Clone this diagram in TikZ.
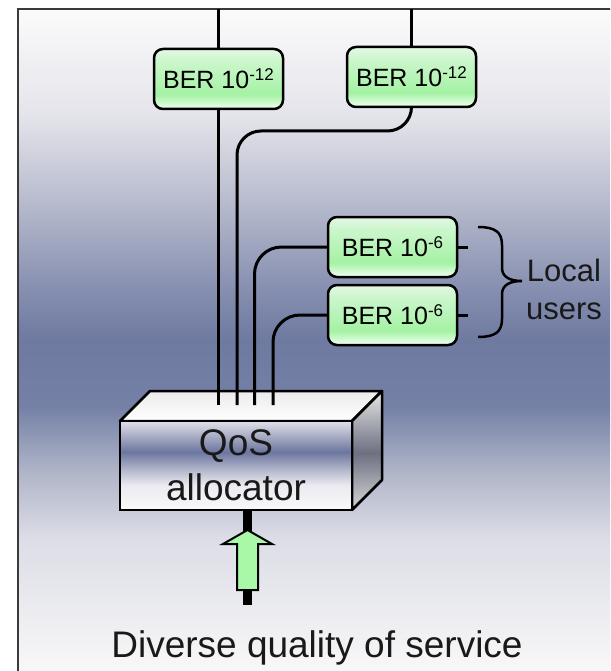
\documentclass[tikz,border=0pt]{standalone}
\usepackage{fontspec}
\setmainfont{Liberation Sans}
\definecolor{bg0}{HTML}{FBFBFB}
\definecolor{bg1}{HTML}{E4E4EB}
\definecolor{bg2}{HTML}{B4B8CB}
\definecolor{bg3}{HTML}{8790B1}
\definecolor{bgA}{HTML}{6F7AA0}
\definecolor{bgB}{HTML}{7480A6}
\definecolor{bgC}{HTML}{B0B5C8}
\definecolor{bgD}{HTML}{DCDDE6}
\definecolor{bgE}{HTML}{F8F8F8}
\definecolor{gbot}{HTML}{F2FFF2}
\definecolor{gmid}{HTML}{A4F2A4}
\definecolor{gup}{HTML}{CCF6CC}
\definecolor{gtop}{HTML}{E4F8E4}
\definecolor{f0}{HTML}{E0E0EA}
\definecolor{f1}{HTML}{ACB0C6}
\definecolor{f2}{HTML}{6C769F}
\definecolor{f3}{HTML}{B4B8CC}
\definecolor{f4}{HTML}{EAEAF0}
\definecolor{f5}{HTML}{FAFAFA}
\definecolor{r0}{HTML}{E6E6E6}
\definecolor{r1}{HTML}{6C7080}
\definecolor{r2}{HTML}{D8D8D8}
\definecolor{arrowgreen}{HTML}{A8F8A8}
\definecolor{framecol}{HTML}{3A3A3A}
\pgfdeclareverticalshading{bgshade}{100bp}{color(0bp)=(bgE); color(25bp)=(bgE); color(35bp)=(bgD); color(40bp)=(bgC); color(45bp)=(bgB); color(50bp)=(bgA); color(54bp)=(bg3); color(60bp)=(bg2); color(67bp)=(bg1); color(75bp)=(bg0); color(100bp)=(bg0)}
\pgfdeclareverticalshading{bergreen}{100bp}{color(0bp)=(gbot); color(25bp)=(gbot); color(37bp)=(gmid); color(65bp)=(gup); color(75bp)=(gtop); color(100bp)=(gtop)}
\pgfdeclareverticalshading{frontface}{100bp}{color(0bp)=(f5); color(25bp)=(f5); color(39bp)=(f4); color(47.5bp)=(f3); color(57.6bp)=(f2); color(67bp)=(f1); color(75bp)=(f0); color(100bp)=(f0)}
\pgfdeclareverticalshading{sideface}{100bp}{color(0bp)=(r2); color(25bp)=(r2); color(49bp)=(r1); color(75bp)=(r0); color(100bp)=(r0)}
\newcommand\bersup[1]{\raisebox{8pt}{\fontsize{17}{20}\selectfont #1}}
\begin{document}
\begin{tikzpicture}[x=1pt,y=-1pt,
  conn/.style={line width=3pt, draw=black},
  berbox/.style={draw=black, line width=2.5pt, rounded corners=9pt, shading=bergreen,
    minimum width=129pt, minimum height=60pt, inner sep=0pt,
    font=\fontsize{25}{30}\selectfont, text=black},
  qosbox/.style={draw=black, line width=2.5pt, shading=frontface,
    minimum width=232pt, minimum height=89pt, inner sep=0pt, align=center,
    font=\fontsize{37}{45}\selectfont, text=black!90},
  face/.style={draw=black, line width=2.5pt, line join=round}]
\useasboundingbox (0,0) rectangle (610,671);
\clip (0,0) rectangle (610,671);
% background
\shade[shading=bgshade] (18,9) rectangle (640,671);
\draw[framecol, line width=2.5pt] (18,700) -- (18,9) -- (640,9);
% BER boxes
\node[berbox] (b1) at (218.5,79) {BER 10\bersup{-12}};
\node[berbox] (b2) at (411.5,77) {BER 10\bersup{-12}};
\node[berbox] (b3) at (392.5,247) {BER 10\bersup{-6}};
\node[berbox] (b4) at (392.5,315) {BER 10\bersup{-6}};
% QoS allocator box
\path[face, top color=white!92!black, bottom color=white] (120,421) -- (150,391) -- (382,391) -- (352,421) -- cycle;
\path[face, shading=sideface] (352,421) -- (382,391) -- (382,480) -- (352,510) -- cycle;
\node[qosbox] (qos) at (236,465.5) {QoS\\allocator};
% coordinates
\coordinate (t1) at (218.5,9);
\coordinate (t2) at (411.5,9);
\coordinate (e1) at (218.5,405);
\coordinate (e2) at (237,405);
\coordinate (e3) at (254.5,405);
\coordinate (e4) at (273,405);
\coordinate (s3) at (468,247);
\coordinate (s4) at (468,315);
\coordinate (h2) at (0,131);
% connectors
\draw[conn] (t1) -- (b1.north);
\draw[conn] (b1.south) -- (e1);
\draw[conn] (t2) -- (b2.north);
\draw[conn, rounded corners=24pt] (b2.south) -- (b2.south |- h2) -- (e2 |- h2) -- (e2);
\draw[conn, rounded corners=27pt] (b3.west) -- (e3 |- b3.west) -- (e3);
\draw[conn, rounded corners=27pt] (b4.west) -- (e4 |- b4.west) -- (e4);
\draw[conn] (b3.east) -- (s3);
\draw[conn] (b4.east) -- (s4);
% brace
\draw[line width=2.5pt, black] (478,227) .. controls (495,227) and (502,232) .. (502,245) -- (502,268)
  .. controls (502,277) and (510,281) .. (522,281)
  .. controls (510,281) and (502,285) .. (502,294) -- (502,319)
  .. controls (502,332) and (495,337) .. (478,337);
\node[font=\fontsize{31}{38}\selectfont, align=center, text=black!90] (lu) at (564,289) {Local\\users};
% input arrow
\coordinate (stemb) at (247.5,605);
\draw[line width=9pt, black] (qos.south -| stemb) -- (stemb);
\draw[line width=2pt, fill=arrowgreen, line join=miter] (247.5,530) -- (272,544) -- (258,544) -- (258,590) -- (237,590) -- (237,544) -- (223,544) -- cycle;
\node[font=\fontsize{37}{42}\selectfont, anchor=base, text=black!90] (dq) at (317,657) {Diverse quality of service};
\end{tikzpicture}
\end{document}
